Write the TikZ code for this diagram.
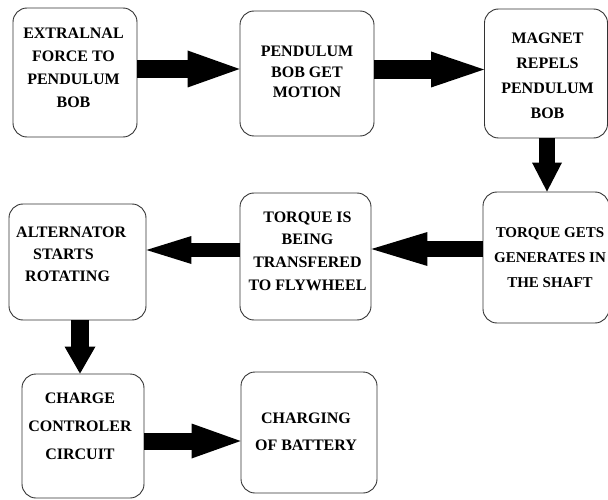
\documentclass[tikz,border=0pt]{standalone}
\usepackage{fontspec}
\setmainfont{Liberation Serif}
\usetikzlibrary{arrows.meta}
\begin{document}
\begin{tikzpicture}[x=1pt,y=-1pt,
  box/.style={draw=black!80,line width=0.9pt,rounded corners=14pt,inner sep=0pt},
  txt/.style={inner sep=0pt,align=center,font=\fontsize{16}{#1}\selectfont\bfseries},
  fat/.style n args={3}{line width=#1pt,-{Triangle[length=#3pt,width=#2pt,line width=0pt]}}]
\useasboundingbox (0,0) rectangle (608,500);
% boxes
\node[box,minimum width=124pt,minimum height=129pt] (b1) at (75,72.5) {};
\node[box,minimum width=134pt,minimum height=125pt] (b2) at (307,73.5) {};
\node[box,minimum width=123pt,minimum height=129pt] (b3) at (546,73.5) {};
\node[box,minimum width=126pt,minimum height=131pt] (b4) at (546,257.5) {};
\node[box,minimum width=131pt,minimum height=127pt] (b5) at (305.5,256.5) {};
\node[box,minimum width=137pt,minimum height=116pt] (b6) at (77.5,262) {};
\node[box,minimum width=122pt,minimum height=124pt] (b7) at (83,436) {};
\node[box,minimum width=136pt,minimum height=121pt] (b8) at (309,432.5) {};
% texts
\node[txt=23pt] (t1) at (73.5,68) {EXTRALNAL\\FORCE TO\\PENDULUM\\BOB};
\node[txt=20.5pt] (t2) at (307,72) {PENDULUM\\BOB GET\\MOTION};
\node[txt=25pt] (t3) at (547.5,75.5) {MAGNET\\REPELS\\PENDULUM\\BOB};
\node[txt=25pt,font=\fontsize{15}{25}\selectfont\bfseries] (t4) at (550,258) {TORQUE GETS\\GENERATES IN\\THE SHAFT};
\node[txt=22.7pt] (t5) at (307.5,251) {TORQUE IS\\BEING\\TRANSFERED\\TO FLYWHEEL};
\node[txt=22pt,align=left,anchor=west] (t6) at (16,254) {ALTERNATOR\\\hspace*{17pt}STARTS\\\hspace*{9pt}ROTATING};
\node[txt=28pt] (t7) at (80,426) {CHARGE\\CONTROLER\\CIRCUIT};
\node[txt=27pt] (t8) at (306,431.5) {CHARGING\\OF BATTERY};
% arrows
\coordinate (a1) at ([yshift=3.5pt]b1.east);
\draw[fat={18}{37}{52}] (a1) -- (a1 -| b2.west);
\coordinate (a2) at ([yshift=4pt]b2.east);
\draw[fat={19}{36}{53}] (a2) -- (a2 -| b3.west);
\coordinate (a3) at ([xshift=1pt]b3.south);
\draw[fat={16}{30}{29}] (a3) -- (a3 |- b4.north);
\coordinate (a4) at ([yshift=8.5pt]b4.west);
\draw[fat={16}{34}{56}] (a4) -- (a4 -| b5.east);
\coordinate (a5) at ([yshift=6.5pt]b5.west);
\draw[fat={14}{28}{45}] (a5) -- (a5 -| b6.east);
\coordinate (a6) at ([xshift=2.5pt]b6.south);
\draw[fat={18}{31}{27}] (a6) -- (a6 |- b7.north);
\coordinate (a7) at ([yshift=-5pt]b7.east);
\draw[fat={17}{35}{49}] (a7) -- (a7 -| b8.west);
\end{tikzpicture}
\end{document}
